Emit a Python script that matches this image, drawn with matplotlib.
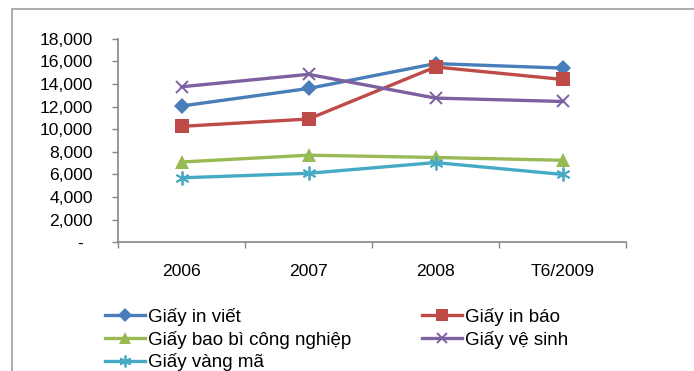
import matplotlib
matplotlib.use("Agg")
import matplotlib.pyplot as plt
from matplotlib.patches import Rectangle
from matplotlib.ticker import FixedLocator, FuncFormatter

plt.rcParams['font.family'] = ['Liberation Sans', 'DejaVu Sans']

# Production by paper type (tonnes)
periods = ["2006", "2007", "2008", "T6/2009"]
giay_in_viet = [12050, 13600, 15800, 15400]
giay_in_bao = [10250, 10900, 15500, 14400]
giay_bao_bi = [7100, 7700, 7500, 7250]
giay_ve_sinh = [13750, 14850, 12750, 12450]
giay_vang_ma = [5700, 6100, 7050, 6000]

series_names = ["Giấy in viết", "Giấy in báo", "Giấy bao bì công nghiệp",
                "Giấy vệ sinh", "Giấy vàng mã"]
series_values = [giay_in_viet, giay_in_bao, giay_bao_bi, giay_ve_sinh, giay_vang_ma]
y_ticks = [0, 2000, 4000, 6000, 8000, 10000, 12000, 14000, 16000, 18000]

styles = [
    dict(color="#4A7EBB", marker="D", ms=8.5, mew=0),
    dict(color="#BE4B48", marker="s", ms=10, mew=0),
    dict(color="#98B954", marker="^", ms=10.5, mew=0),
    dict(color="#7D60A0", marker="x", ms=9, mew=1.4),
    dict(color="#46AAC5", marker=(6, 2, 0), ms=10, mew=1.3),
]

AXIS_FS = 12.6
LEGEND_FS = 13.5

fig = plt.figure(figsize=(6.94, 3.71), dpi=100)
ax = fig.add_axes([118 / 694, 1 - 242.3 / 371, (626 - 118) / 694, (242.3 - 38.7) / 371])

x = list(range(len(periods)))
handles = []
for name, vals, st in zip(series_names, series_values, styles):
    h, = ax.plot(x, vals, color=st["color"], lw=2.4, marker=st["marker"],
                 markersize=st["ms"], markeredgewidth=st["mew"],
                 markeredgecolor=st["color"], markerfacecolor=st["color"],
                 label=name, solid_joinstyle="round")
    handles.append(h)

ax.set_xlim(-0.5, len(periods) - 0.5)
ax.set_ylim(0, 18000)

for side in ("top", "right"):
    ax.spines[side].set_visible(False)
for side in ("left", "bottom"):
    ax.spines[side].set_color("#868686")
    ax.spines[side].set_linewidth(1.2)

ax.yaxis.set_major_locator(FixedLocator(y_ticks))
ax.yaxis.set_major_formatter(FuncFormatter(lambda v, p: "-  " if v == 0 else f"{int(v):,}"))
ax.tick_params(axis="y", length=4, width=1.0, color="#868686", pad=14,
               labelsize=AXIS_FS, labelcolor="black")

boundaries = [i - 0.5 for i in range(len(periods) + 1)]
ax.xaxis.set_major_locator(FixedLocator(boundaries))
ax.xaxis.set_major_formatter(FuncFormatter(lambda v, p: ""))
ax.xaxis.set_minor_locator(FixedLocator(x))
ax.set_xticklabels(periods, minor=True)
ax.tick_params(axis="x", which="major", length=4, width=1.0, color="#868686")
ax.tick_params(axis="x", which="minor", length=0, pad=15.5, labelsize=AXIS_FS,
               labelcolor="black")

# legend entries read row by row across two columns
order = [0, 2, 4, 1, 3]
fig.legend(handles=[handles[i] for i in order],
           labels=[series_names[i] for i in order], ncol=2, loc="upper left",
           bbox_to_anchor=(105 / 694, 1 - 308 / 371), frameon=False,
           fontsize=LEGEND_FS, handlelength=2.13, handletextpad=0.16,
           columnspacing=3.78, labelspacing=0.25, markerscale=0.85,
           borderaxespad=0, borderpad=0)

# outer chart-area border
fig.add_artist(Rectangle((12 / 694, -0.2), 1.2, 1 - 9 / 371 + 0.2,
                         transform=fig.transFigure, fill=False,
                         edgecolor="#A6A6A6", lw=1.3, clip_on=False))

fig.savefig("out.png", dpi=100)
